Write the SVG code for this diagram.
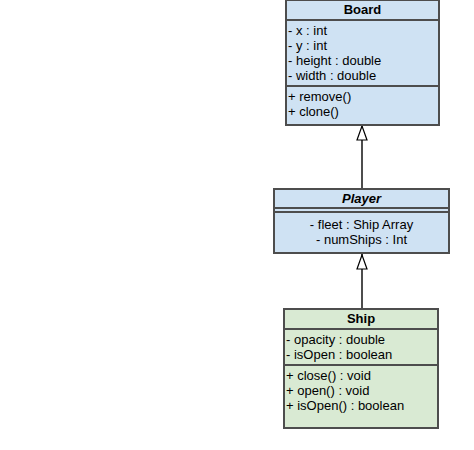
<svg xmlns="http://www.w3.org/2000/svg" width="474" height="450" viewBox="0 0 474 450">
<defs>
<style>
.box{stroke:#4d4d4d;stroke-width:2}
.blue{fill:#cfe2f3}
.green{fill:#d9ead3}
.div{stroke:#4d4d4d;stroke-width:2;fill:none}
text{font-family:"Liberation Sans",Arial,sans-serif;font-size:13px;fill:#000}
.title{font-weight:bold;text-anchor:middle}
.it{font-style:italic}
.mid{text-anchor:middle}
.edge{stroke:#4d4d4d;stroke-width:2;fill:none}
</style>
<marker id="tri" viewBox="0 0 16 12" refX="16" refY="6" markerWidth="16" markerHeight="12" markerUnits="userSpaceOnUse" orient="auto">
<path d="M1,1 L15,6 L1,11 Z" fill="#ffffff" stroke="#000" stroke-width="1.2"/>
</marker>
</defs>
<rect width="474" height="450" fill="#ffffff"/>
<g id="connectors">
<path class="edge" d="M362,189 L362,125" marker-end="url(#tri)"/>
<path class="edge" d="M362,309 L362,254" marker-end="url(#tri)"/>
</g>
<g id="board">
<rect class="box blue" x="286" y="0" width="153" height="125"/>
<line class="div" x1="286" y1="20" x2="439" y2="20"/>
<line class="div" x1="286" y1="86" x2="439" y2="86"/>
<text class="title" x="362.5" y="14">Board</text>
<text x="288" y="35">- x : int</text>
<text x="288" y="50">- y : int</text>
<text x="288" y="65">- height : double</text>
<text x="288" y="80">- width : double</text>
<text x="288" y="101">+ remove()</text>
<text x="288" y="116">+ clone()</text>
</g>
<g id="player">
<rect class="box blue" x="274" y="189" width="175" height="64"/>
<line class="div" x1="274" y1="208" x2="449" y2="208"/>
<line class="div" x1="274" y1="212" x2="449" y2="212"/>
<text class="title it" x="361.5" y="203">Player</text>
<text class="mid" x="361.5" y="229">- fleet : Ship Array</text>
<text class="mid" x="361.5" y="244">- numShips : Int</text>
</g>
<g id="ship">
<rect class="box green" x="284" y="309" width="154" height="119"/>
<line class="div" x1="284" y1="329" x2="438" y2="329"/>
<line class="div" x1="284" y1="365" x2="438" y2="365"/>
<text class="title" x="361" y="323">Ship</text>
<text x="286" y="344">- opacity : double</text>
<text x="286" y="359">- isOpen : boolean</text>
<text x="286" y="380">+ close() : void</text>
<text x="286" y="395">+ open() : void</text>
<text x="286" y="410">+ isOpen() : boolean</text>
</g>
</svg>
